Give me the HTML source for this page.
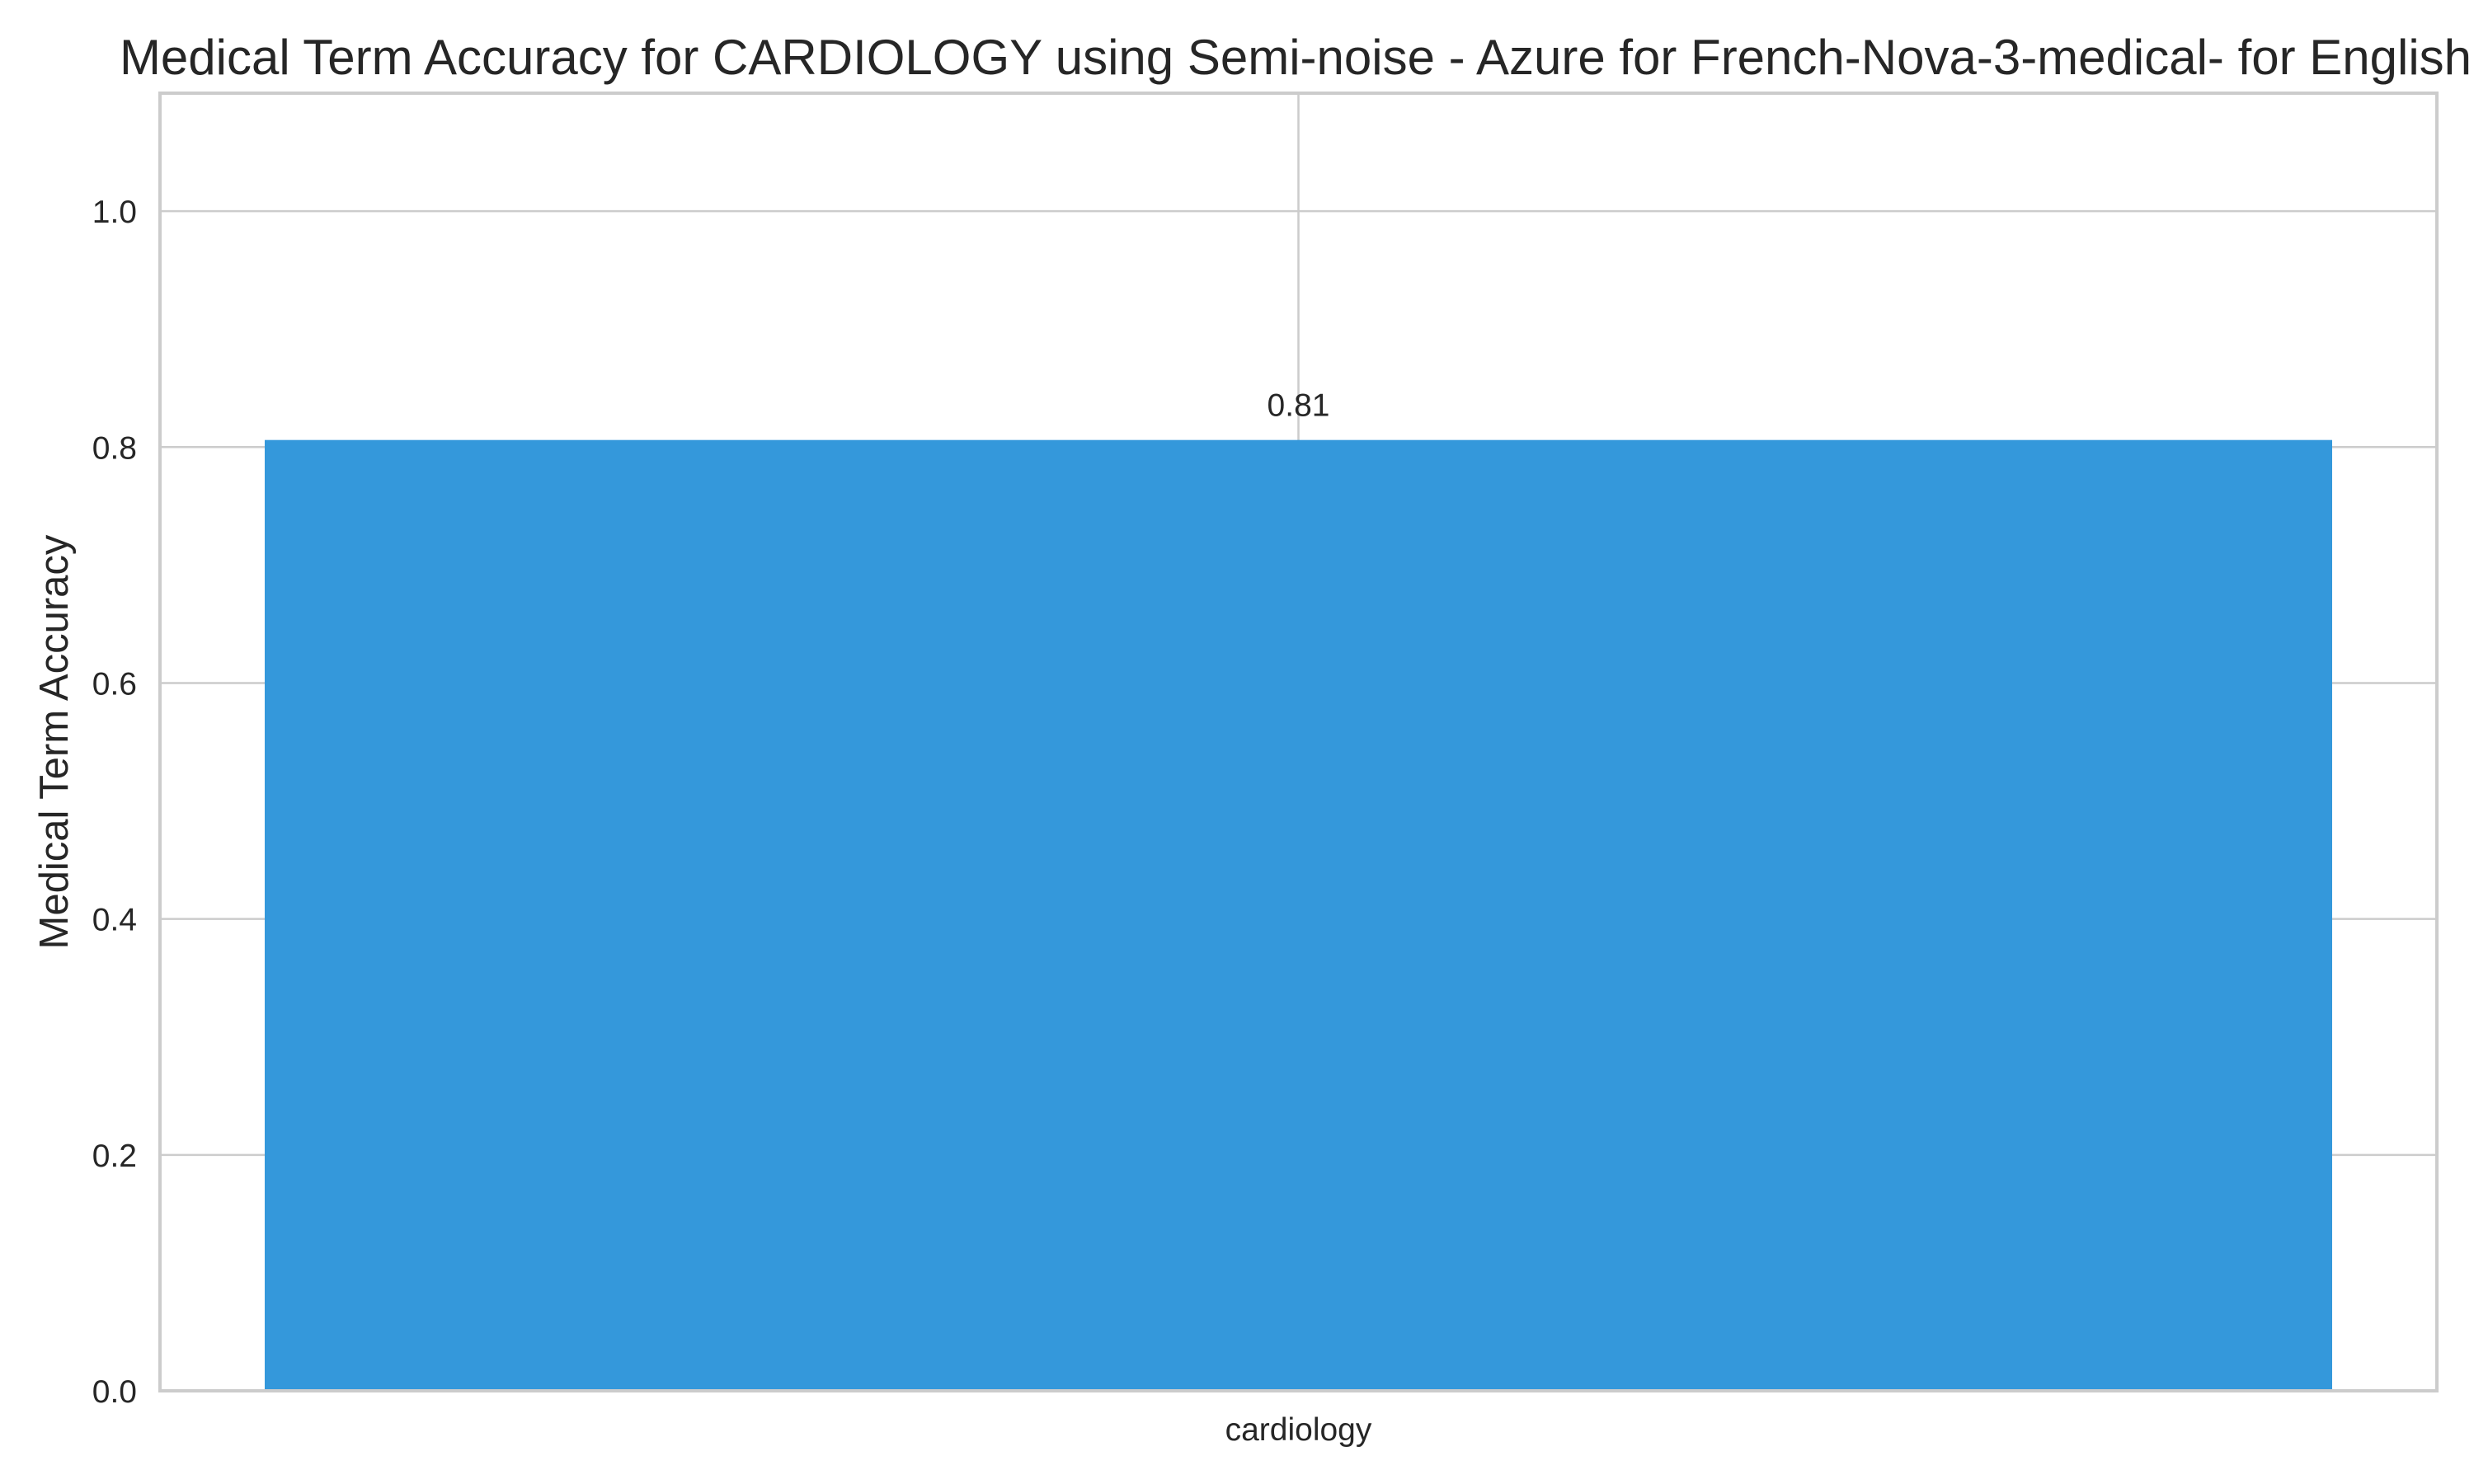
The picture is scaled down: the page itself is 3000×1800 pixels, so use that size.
<!DOCTYPE html>
<html><head><meta charset="utf-8"><style>
html,body{margin:0;padding:0;background:#fff;}
svg{display:block;font-family:"Liberation Sans",Arial,sans-serif;}
</style></head><body>
<svg id="chart" width="3000" height="1800" viewBox="0 0 3000 1800">
<rect width="3000" height="1800" fill="#fff"/>
<text x="1571" y="90" font-size="60" text-anchor="middle" fill="#262626">Medical Term Accuracy for CARDIOLOGY using Semi-noise - Azure for French-Nova-3-medical- for English</text>
<g id="grid"></g>
<g id="bars"></g>
<g id="ticks"></g>
<rect x="194" y="113" width="2761" height="1574" fill="none" stroke="#cccccc" stroke-width="4"/>
<text transform="translate(82,900) rotate(-90)" font-size="49" text-anchor="middle" fill="#262626">Medical Term Accuracy</text>
</svg>
<script>
const categories = ["cardiology"];
const values = [0.806];
const valueLabels = ["0.81"];
const yTicks = [0.0, 0.2, 0.4, 0.6, 0.8, 1.0];
const yTickLabels = ["0.0", "0.2", "0.4", "0.6", "0.8", "1.0"];

const NS = "http://www.w3.org/2000/svg";
const L = 194, R = 2955, T = 113, B = 1687, YMAX = 1.1;
function y(v){ return B - (v / YMAX) * (B - T); }
const n = categories.length;
const slot = (R - L) / n;
function xc(i){ return L + slot * (i + 0.5); }
const barW = slot * 0.908;

function mk(tag, attrs){ const e = document.createElementNS(NS, tag); for (const k in attrs) e.setAttribute(k, attrs[k]); return e; }
const grid = document.getElementById('grid'), bars = document.getElementById('bars'), ticks = document.getElementById('ticks');

yTicks.forEach((t, i) => {
  const ln = mk('line', {x1: L, x2: R, y1: y(t), y2: y(t), stroke: '#cccccc', 'stroke-width': 2.5});
  
  
  grid.appendChild(ln);
  const tx = mk('text', {x: 166, y: y(t) + 14, 'font-size': 39, 'text-anchor': 'end', fill: '#262626'});
  tx.textContent = yTickLabels[i];
  
  
  ticks.appendChild(tx);
});
categories.forEach((c, i) => {
  const vl = mk('line', {x1: xc(i), x2: xc(i), y1: T, y2: B, stroke: '#cccccc', 'stroke-width': 2.5});
  
  
  grid.appendChild(vl);
  const r = mk('rect', {x: xc(i) - barW / 2, y: y(values[i]), width: barW, height: B - y(values[i]), fill: '#3498db'});
  
  
  bars.appendChild(r);
  const lb = mk('text', {x: xc(i), y: y(values[i]) - 29, 'font-size': 39, 'text-anchor': 'middle', fill: '#262626'});
  lb.textContent = valueLabels[i];
  
  
  bars.appendChild(lb);
  const xt = mk('text', {x: xc(i), y: 1747, 'font-size': 39, 'text-anchor': 'middle', fill: '#262626'});
  xt.textContent = c;
  
  
  ticks.appendChild(xt);
});
</script>
</body></html>
